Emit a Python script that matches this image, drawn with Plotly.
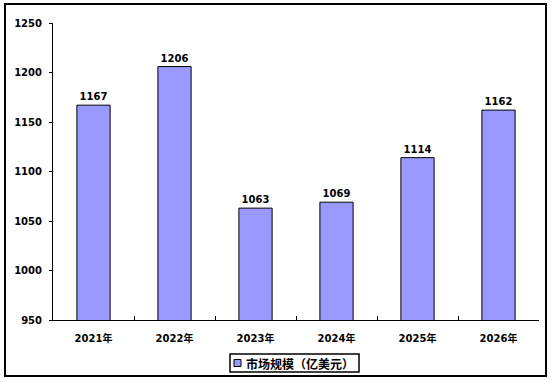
import plotly.graph_objects as go

categories = ["2021年", "2022年", "2023年", "2024年", "2025年", "2026年"]
values = [1167, 1206, 1063, 1069, 1114, 1162]
series_name = "市场规模（亿美元）"
y_ticks = [950, 1000, 1050, 1100, 1150, 1200, 1250]

font_family = "DejaVu Sans, Noto Sans CJK SC"
bar_color = "#9999FF"

W, H = 554, 382
L, R, T, B = 53, 15, 23, 62
PW, PH = W - L - R, H - T - B


def px_x(x):
    return (x - L) / PW


def px_y(y):
    return (H - B - y) / PH


fig = go.Figure()
fig.add_trace(go.Bar(
    x=categories, y=values, name=series_name,
    marker=dict(color=bar_color, line=dict(color="black", width=1)),
    width=0.41,
    text=[f"<b>{v}</b>" for v in values],
    textposition="outside",
    textfont=dict(size=10, color="black", family=font_family),
    cliponaxis=False,
    showlegend=False,
))

fig.update_layout(
    width=W, height=H,
    margin=dict(l=L, r=R, t=T, b=B, autoexpand=False),
    paper_bgcolor="white", plot_bgcolor="white",
    font=dict(family=font_family, size=10, color="black"),
    showlegend=False,
    bargap=0.59,
    xaxis=dict(
        type="category",
        showline=True, linecolor="black", linewidth=1,
        ticks="inside", ticklen=4, tickcolor="black",
        tickson="boundaries",
        tickfont=dict(size=10, family=font_family),
        tickprefix="<b>", ticksuffix="</b>",
        ticklabelstandoff=9,
        showgrid=False,
    ),
    yaxis=dict(
        range=[950, 1250],
        tickvals=y_ticks,
        ticktext=[f"<b>{t}</b>" for t in y_ticks],
        showline=True, linecolor="black", linewidth=1,
        ticks="outside", ticklen=3, tickcolor="black",
        tickfont=dict(size=10, family=font_family),
        ticklabelstandoff=5,
        showgrid=False, zeroline=False,
    ),
    shapes=[
        # outer chart border
        dict(type="rect", xref="paper", yref="paper",
             x0=px_x(5), x1=px_x(546), y0=px_y(376), y1=px_y(4),
             line=dict(color="black", width=2),
             fillcolor="rgba(0,0,0,0)", layer="below"),
        # legend box
        dict(type="rect", xref="paper", yref="paper",
             x0=px_x(230), x1=px_x(359), y0=px_y(372), y1=px_y(354),
             line=dict(color="black", width=1.5),
             fillcolor="white"),
        # legend swatch
        dict(type="rect", xref="paper", yref="paper",
             x0=px_x(234), x1=px_x(241), y0=px_y(366.5), y1=px_y(359.5),
             line=dict(color="black", width=1),
             fillcolor=bar_color),
    ],
    annotations=[dict(
        xref="paper", yref="paper",
        x=px_x(244), y=px_y(363), xanchor="left", yanchor="middle",
        text=f"<b>{series_name}</b>", showarrow=False,
        font=dict(size=12, family="Noto Sans CJK SC, DejaVu Sans", color="black"),
    )],
)

fig.write_html("out.html")
